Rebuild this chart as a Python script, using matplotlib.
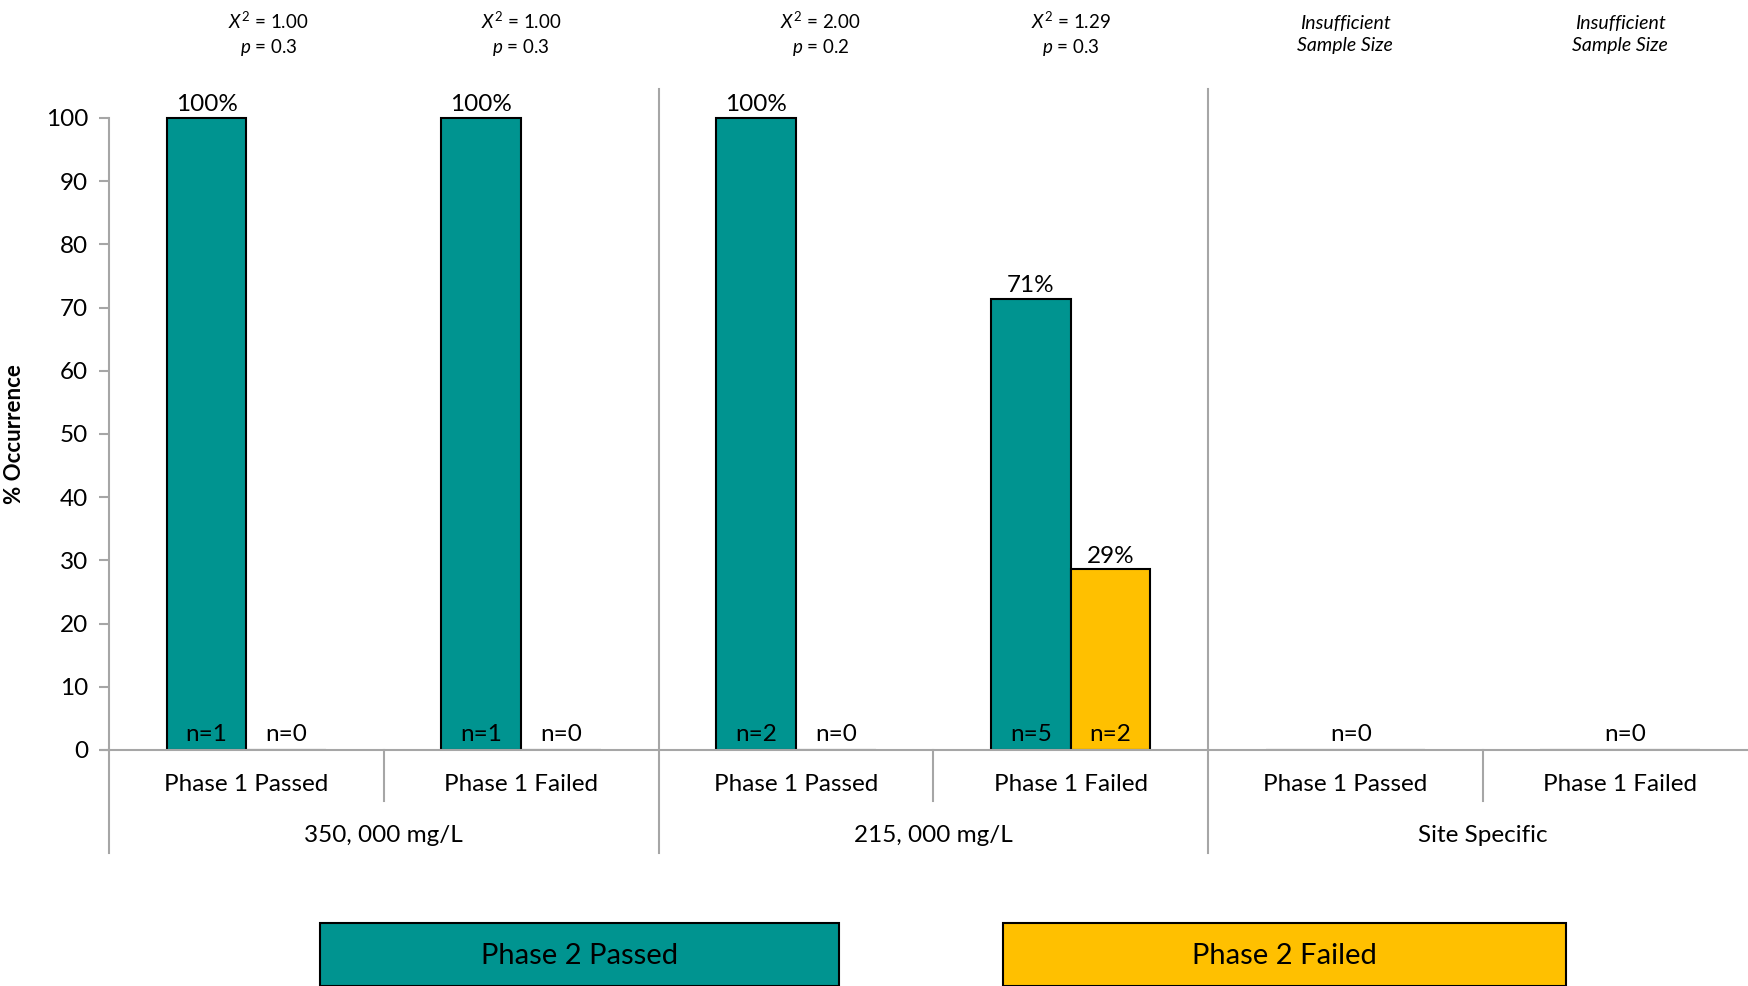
import matplotlib
matplotlib.use("Agg")
import matplotlib.pyplot as plt
from matplotlib.patches import Rectangle

plt.rcParams['font.family'] = ['Lato', 'DejaVu Sans']
plt.rcParams['mathtext.fontset'] = 'custom'
plt.rcParams['mathtext.rm'] = 'Lato'
plt.rcParams['mathtext.it'] = 'Lato:italic'

# data
categories = ["Phase 1 Passed", "Phase 1 Failed"] * 3
groups = ["350, 000 mg/L", "215, 000 mg/L", "Site Specific"]
passed = [100, 100, 100, 71.4, 0, 0]
failed = [0, 0, 0, 28.6, 0, 0]
n_passed = [1, 1, 2, 5, 0, 0]
n_failed = [0, 0, 0, 2, 0, 0]
stats = [r"$X^2$ = 1.00" + "\n" + r"$p$ = 0.3",
         r"$X^2$ = 1.00" + "\n" + r"$p$ = 0.3",
         r"$X^2$ = 2.00" + "\n" + r"$p$ = 0.2",
         r"$X^2$ = 1.29" + "\n" + r"$p$ = 0.3",
         "Insufficient\nSample Size",
         "Insufficient\nSample Size"]
stat_italic = [False, False, False, False, True, True]
stat_shift = [0.08, 0, 0.09, 0, 0, 0]  # layout nudges of the top notes

teal = "#009490"
gold = "#FFC000"
grey = "#A6A6A6"
fs = 17.5

fig = plt.figure(figsize=(17.48, 9.86), dpi=100)
ax = fig.add_axes([0.0624, 0.2394, 0.943, 0.673])

x = list(range(len(categories)))
w = 0.29
xp = [i - w / 2 for i in x]
xf = [i + w / 2 for i in x]
ax.bar(xp, passed, w, color=teal, edgecolor="black", linewidth=1.5)
ax.bar(xf, failed, w, color=gold, edgecolor="black", linewidth=1.5)

ax.set_xlim(-0.5, 5.5)
ax.set_ylim(0, 105)
ax.set_yticks(range(0, 101, 10))
ax.tick_params(axis='y', labelsize=fs, length=7, width=1.5, color=grey, pad=8)
ax.set_xticks([])
for s in ["top", "right"]:
    ax.spines[s].set_visible(False)
ax.spines["left"].set_bounds(0, 100)
ax.spines["left"].set_color(grey)
ax.spines["left"].set_linewidth(1.5)
ax.spines["bottom"].set_color(grey)
ax.spines["bottom"].set_linewidth(1.5)
ax.plot([-0.53, -0.5], [0, 0], color=grey, lw=1.5, clip_on=False)
ax.set_ylabel("% Occurrence", fontsize=16, fontweight="bold")
ax.yaxis.set_label_coords(-0.051, 50 / 105)

# value labels
for i in x:
    if passed[i] > 0:
        ax.text(xp[i], passed[i] + 0.4, f"{passed[i]:.0f}%", ha="center", va="bottom", fontsize=fs)
        ax.text(xp[i], 2.4, f"n={n_passed[i]}", ha="center", va="center", fontsize=fs)
        ax.text(xf[i], 2.4, f"n={n_failed[i]}", ha="center", va="center", fontsize=fs)
    else:
        ax.text(i + 0.02, 2.4, f"n={n_failed[i]}", ha="center", va="center", fontsize=fs)
    if failed[i] > 0:
        ax.text(xf[i], failed[i] + 0.4, f"{failed[i]:.0f}%", ha="center", va="bottom", fontsize=fs)
    ax.text(i + stat_shift[i], 113.2, stats[i], ha="center", va="center",
            fontsize=14 if stat_italic[i] else 13.5,
            style="italic" if stat_italic[i] else "normal",
            linespacing=1.35, clip_on=False)
    ax.text(i, -5.5, categories[i], ha="center", va="center", fontsize=fs, clip_on=False)

for g, name in enumerate(groups):
    ax.text(2 * g + 0.5, -13.6, name, ha="center", va="center", fontsize=fs, clip_on=False)

# separators
for b in [0.5, 2.5, 4.5]:
    ax.plot([b, b], [0, -8.1], color=grey, lw=1.5, clip_on=False)
ax.plot([-0.5, -0.5], [0, -16.3], color=grey, lw=1.5, clip_on=False)
for b in [1.5, 3.5]:
    ax.plot([b, b], [104.6, -16.3], color=grey, lw=1.5, clip_on=False)

# legend boxes
H = 986.0
Wf = 1748.0
legend = [("Phase 2 Passed", teal, 320, 839), ("Phase 2 Failed", gold, 1003, 1566)]
for label, col, x0, x1 in legend:
    fig.patches.append(Rectangle((x0 / Wf, 0), (x1 - x0) / Wf, (986 - 923) / H,
                                 transform=fig.transFigure, facecolor=col,
                                 edgecolor="black", linewidth=1.5))
    fig.text((x0 + x1) / 2 / Wf, 1 - 956 / H, label, ha="center", va="center", fontsize=21)

fig.savefig("out.png", dpi=100)
